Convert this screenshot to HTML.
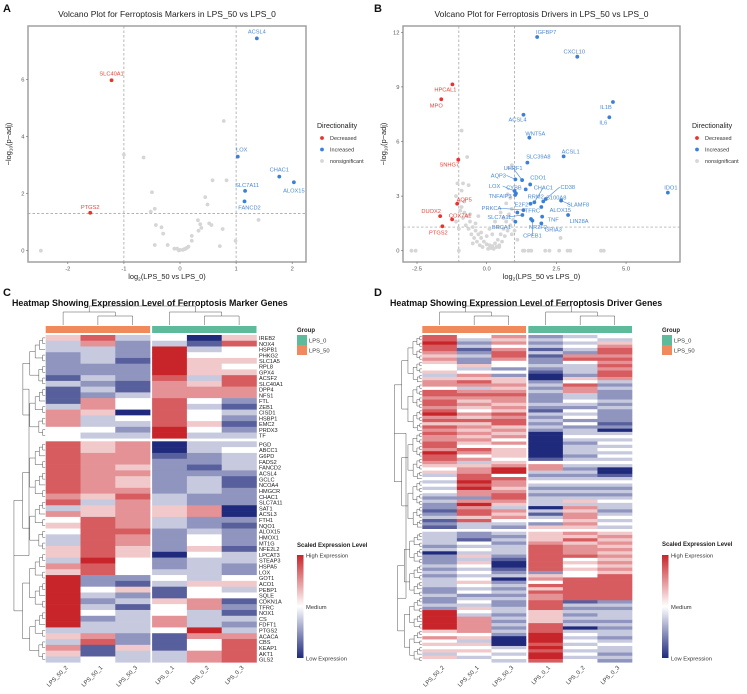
<!DOCTYPE html>
<html><head><meta charset="utf-8"><style>
html,body{margin:0;padding:0;background:#fff;}
svg{display:block;font-family:"Liberation Sans",sans-serif;}
</style></head><body>
<svg id="fig" width="747" height="694" viewBox="0 0 747 694" xmlns="http://www.w3.org/2000/svg">
<defs>
<linearGradient id="cbar" x1="0" y1="0" x2="0" y2="1">
<stop offset="0" stop-color="#c8252b"/><stop offset="0.5" stop-color="#ffffff"/><stop offset="1" stop-color="#1f2a7c"/>
</linearGradient>
</defs>
</svg>
<script>
// ---------- Panel A data ----------
const aSigNames = ["ACSL4","SLC40A1","LOX","CHAC1","ALOX15","SLC7A11","FANCD2","PTGS2"];
const aSigX = [1.37,-1.22,1.03,1.77,2.03,1.16,1.15,-1.6];
const aSigY = [7.45,5.98,3.3,2.6,2.4,2.1,1.73,1.33];
const aSigDir = ["up","down","up","up","up","up","up","down"];
const aGrayX = [-2.48,-1,-0.65,-0.5,-0.52,-0.45,-0.43,-0.33,-0.3,-0.45,-0.22,0.78,0.58,0.83,0.45,0.49,0.32,0.36,0.33,0.38,0.52,0.56,0.76,0.71,0.21,0.21,0.99,1.4,-0.1,-0.05,0,0.05,0.1,0.12,0.15,0.07,-0.02];
const aGrayY = [0,3.37,3.27,2.05,1.37,1.47,0.9,0.82,0.6,0.2,0.2,4.55,2.47,2.47,1.88,1.62,1.07,0.93,0.7,0.8,0.96,0.9,0.76,0.16,0.52,0.35,0.35,1.08,0.07,0.07,0.03,0.03,0.07,0.1,0.14,0.05,0.01];
const aXTicks = [-2,-1,0,1,2];
const aYTicks = [0,2,4,6];

// ---------- Panel B data ----------
const bSigNames = ["IGFBP7","CXCL10","IL1B","IL6","ACSL4","WNT5A","ACSL1","SLC39A8","IDO1","UHRF1","AQP3","CDO1","LOX","CYBB","TNFAIP3","RRM2","CHAC1","CD38","S100A8","SLAMF8","E2F2","PRKCA","TFRC","ALOX15","SLC7A11","LIN28A","TNF","GRIA3","NR2F2","BRCA1","CPEB1","HPCAL1","MPO","SNHG7","AQP5","DUOX2","COX7A1","PTGS2"];
const bSigX = [1.81,3.25,4.53,4.40,1.32,1.53,2.76,1.46,6.5,1.27,1.03,1.56,1.0,1.05,1.02,1.4,1.71,2.12,2.03,2.67,1.57,1.32,1.1,1.96,1.28,2.92,1.99,1.96,1.59,1.03,1.64,-1.23,-1.63,-1.02,-1.06,-1.67,-1.24,-1.59];
const bSigY = [11.74,10.66,8.17,7.33,7.47,6.21,5.18,4.84,3.19,3.88,3.92,3.64,3.28,3.15,3.06,3.37,2.66,2.84,2.71,2.75,2.58,2.23,2.1,2.4,1.96,1.96,1.87,1.5,1.74,1.59,1.65,9.14,8.32,5.0,2.58,1.9,1.72,1.34];
const bSigDir = ["up","up","up","up","up","up","up","up","up","up","up","up","up","up","up","up","up","up","up","up","up","up","up","up","up","up","up","up","up","up","up","down","down","down","down","down","down","down"];
const bGrayX = [-2.7,-2.55,-1.0,1.3,1.35,1.5,1.6,2.1,2.25,2.6,2.9,4.1,4.2,3.0,-0.9,-0.7,-1.05,-0.85,-0.65,-0.9,0.8,0.9,0.75,0.85,1.1,2.65,-1.1,-1.0,-0.9,-0.8,-0.7,-0.6,-0.5,-0.4,-0.3,-0.2,-0.1,0,0.1,0.2,0.3,0.4,0.5,0.6,0.7,0.8,0.9,-0.95,-0.85,-0.75,-0.65,-0.55,-0.45,-0.35,-0.25,-0.15,0.05,0.15,0.25,0.35,0.45,0.55,0.65,0.75,0.85,0.95,-0.2,0,0.2,0.4,0.6,-0.4,-0.6,0.3,0.5,0.1,-0.3,0.7,-0.8,-1.0,-1.1,0.9,1.0,-0.5,0.45];
const bGrayY = [0,0,0,0,0,0,0,0,0,0,0,0,0,0,6.6,5.15,3.7,3.7,3.6,3.3,4.55,4.7,3.1,2.9,0.6,0.7,3.0,2.7,2.4,2.1,1.9,1.6,1.3,1.1,0.9,0.7,0.5,0.35,0.3,0.25,0.4,0.6,0.9,1.2,1.6,2.0,2.3,2.2,1.8,1.4,1.2,0.9,0.7,0.5,0.3,0.2,0.1,0.15,0.1,0.2,0.3,0.5,0.8,1.1,1.4,1.7,1.0,0.8,0.9,1.3,1.8,1.5,2.0,1.6,2.1,1.2,1.9,2.6,2.7,1.2,1.6,0.9,1.1,0.4,0.2];
const bXTicks = [-2.5,0,2.5,5];
const bXTickLabels = ["-2.5","0.0","2.5","5.0"];
const bYTicks = [0,3,6,9,12];

// ---------- Panel C data (scaled expression, 0=low .. 8=high) ----------
const cGenes = ["IREB2","NOX4","HSPB1","PHKG2","SLC1A5","RPL8","GPX4","ACSF2","SLC40A1","DPP4","NFS1","FTL","ZEB1","CISD1","HSBP1","EMC2","PRDX3","TF","PGD","ABCC1","G6PD","FADS2","FANCD2","ACSL4","GCLC","NCOA4","HMGCR","CHAC1","SLC7A11","SAT1","ACSL3","FTH1","NQO1","ALOX15","HMOX1","MT1G","NFE2L2","LPCAT3","STEAP3","HSPA5","LOX","GOT1","ACO1","PEBP1","SQLE","CDKN1A","TFRC","NOX1","CS","FDFT1","PTGS2","ACACA","CBS","KEAP1","AKT1","GLS2"];
const cSamples = ["LPS_50_2","LPS_50_1","LPS_50_3","LPS_0_1","LPS_0_2","LPS_0_3"];
const cCol1 = [5,3,3,2,2,2,2,1,3,1,1,1,3,6,6,6,4,4,7,7,7,7,7,7,7,7,7,6,7,3,6,4,5,4,3,3,5,5,3,6,5,8,8,8,8,8,8,8,8,8,3,5,3,6,5,3];
const cCol2 = [7,6,3,3,3,2,2,3,2,3,2,6,6,5,3,3,4,3,5,5,6,6,6,6,6,6,6,5,3,5,5,7,7,7,7,7,7,7,8,7,7,2,2,4,3,2,3,4,2,3,3,6,7,1,1,4];
const cCol3 = [3,2,2,2,1,2,2,2,1,1,3,4,4,0,4,3,2,3,6,6,6,6,5,6,5,5,6,7,6,6,6,6,6,7,6,6,5,5,4,4,4,2,1,5,2,3,1,3,3,3,3,2,2,5,3,3];
const cCol4 = [4,3,8,8,8,8,8,7,6,6,6,7,7,7,7,7,8,8,0,0,1,2,2,2,2,2,2,3,3,5,5,3,3,2,2,2,2,0,2,2,3,4,3,1,1,5,4,4,6,6,4,1,1,1,3,3];
const cCol5 = [0,1,3,4,5,5,5,3,5,6,6,4,3,4,4,5,4,3,3,3,2,2,1,2,3,3,3,2,2,6,6,2,2,3,4,4,5,4,3,3,3,3,5,4,4,6,6,3,3,3,8,6,4,4,6,6];
const cCol6 = [5,7,4,4,5,4,5,7,7,6,6,2,1,3,2,1,2,3,3,4,3,3,3,2,1,1,2,2,2,0,0,2,1,2,2,2,1,3,3,2,2,4,5,3,4,1,2,1,3,2,3,6,7,7,7,7];

// ---------- Panel D data (0=low .. 8=high), 60 top-cluster rows + 40 bottom-cluster rows ----------
const dCol1 = "7787765654"+"4535664776"+"7767867576"+"7667768776"+"5453434343"+"2322123121"+"3333230222"+"3232333223"+"2232888888"+"5464545354";
const dCol2 = "4323123225"+"3465763676"+"5654657565"+"6565476463"+"5667787866"+"2686775733"+"2214343535"+"4343454342"+"3435436666"+"6453545434";
const dCol3 = "6564677644"+"2425565676"+"6565767756"+"5646455545"+"6884766567"+"7653656432"+"3232333210"+"0123023232"+"3223323232"+"3200034343";
const dCol4 = "2323131223"+"2100232322"+"2321323232"+"0000000014"+"6632343232"+"3330313425"+"5556777777"+"7725647576"+"6777555577"+"7888787887";
const dCol5 = "3434326743"+"3325476633"+"4324342423"+"3432333234"+"3232343232"+"3536566565"+"6575666745"+"4544777777"+"7132323230"+"3434343434";
const dCol6 = "4356776767"+"6776323222"+"3232222120"+"3434343434"+"3001343232"+"3433234343"+"5656565656"+"5657777777"+"7232333232"+"3323433232";
const dSamples = ["LPS_50_2","LPS_50_1","LPS_50_3","LPS_0_1","LPS_0_2","LPS_0_3"];

const legendLabels = ["Decreased","Increased","nonsignificant"];
const groupLabels = ["LPS_0","LPS_50"];

// ---------- helpers ----------
const NS = "http://www.w3.org/2000/svg";
const svg = document.getElementById("fig");
function mk(tag, attrs, parent, text){
  const e = document.createElementNS(NS, tag);
  for (const k in attrs) e.setAttribute(k, attrs[k]);
  if (text !== undefined) e.textContent = text;
  (parent || svg).appendChild(e);
  return e;
}
const RED="#e8332f", BLUE="#3b7fd6", GRAY="#d6d6d6", RLAB="#e8453c", BLAB="#4a8ad4";
function heatColor(d){
  const v=(d-4)/4;
  const w=[255,255,255], hi=[200,37,43], lo=[31,42,124];
  const t=Math.min(1,Math.abs(v)), c=v>=0?hi:lo;
  return "rgb("+w.map((x,i)=>Math.round(x+(c[i]-x)*t)).join(",")+")";
}

// ---------- panel letters ----------
[["A",3,12],["B",374,12],["C",3,296],["D",374,296]].forEach(p=>{
  const t=mk("text",{x:p[1],y:p[2],"font-size":"11","font-weight":"bold",fill:"#111"},svg,p[0]);
  
  
});

// ---------- volcano builder ----------
function volcano(cfg){
  const g=mk("g",{});
  
  
  const xs=v=>cfg.x0+v*cfg.xk, ys=v=>cfg.y0-v*cfg.yk;
  const t=mk("text",{x:(cfg.L+cfg.R)/2,y:17,"text-anchor":"middle","font-size":"8.5",fill:"#222"},g,cfg.title);
  
  
  const frame=mk("rect",{x:cfg.L,y:cfg.T,width:cfg.R-cfg.L,height:cfg.B-cfg.T,fill:"none",stroke:"#9a9a9a","stroke-width":"1.4"},g);
  
  
  [-1,1].forEach(v=>{
    const l=mk("line",{x1:xs(v),x2:xs(v),y1:cfg.T,y2:cfg.B,stroke:"#999","stroke-width":"0.7","stroke-dasharray":"2.5,2"},g);
    
    
  });
  const hl=mk("line",{x1:cfg.L,x2:cfg.R,y1:ys(1.3),y2:ys(1.3),stroke:"#999","stroke-width":"0.7","stroke-dasharray":"2.5,2"},g);
  
  
  cfg.xt.forEach((v,i)=>{
    mk("line",{x1:xs(v),x2:xs(v),y1:cfg.B,y2:cfg.B+2,stroke:"#666","stroke-width":"0.6"},g);
    const tl=mk("text",{x:xs(v),y:cfg.B+8.5,"text-anchor":"middle","font-size":"5.8",fill:"#555"},g,cfg.xtl[i]);
    
    
  });
  cfg.yt.forEach(v=>{
    mk("line",{x1:cfg.L-2,x2:cfg.L,y1:ys(v),y2:ys(v),stroke:"#666","stroke-width":"0.6"},g);
    const tl=mk("text",{x:cfg.L-3.5,y:ys(v)+2,"text-anchor":"end","font-size":"5.8",fill:"#555"},g,String(v));
    
    
  });
  const xt=mk("text",{x:(cfg.L+cfg.R)/2,y:cfg.B+17,"text-anchor":"middle","font-size":"7.4",fill:"#222"},g);
  
  
  mk("tspan",{},xt,"log");
  mk("tspan",{"font-size":"4.8",dy:"1.5"},xt,"2");
  mk("tspan",{dy:"-1.5"},xt,"(LPS_50 vs LPS_0)");
  const yx=cfg.L-17, yy=(cfg.T+cfg.B)/2;
  const yt=mk("text",{x:yx,y:yy,"text-anchor":"middle","font-size":"7.4",fill:"#222",transform:"rotate(-90 "+yx+" "+yy+")"},g);
  
  
  mk("tspan",{},yt,"\u2212log");
  mk("tspan",{"font-size":"4.8",dy:"1.5"},yt,"10");
  mk("tspan",{dy:"-1.5"},yt,"(p\u2212adj)");
  cfg.gx.forEach((v,i)=>{
    const c=mk("circle",{cx:xs(v),cy:ys(cfg.gy[i]),r:1.9,fill:GRAY},g);
    
    
  });
  cfg.names.forEach((n,i)=>{
    const px=xs(cfg.sx[i]), py=ys(cfg.sy[i]);
    const up=cfg.dir[i]==="up";
    const off=cfg.off[i];
    const lx=px+off[0], ly=py+off[1];
    if (off[2]) {
      const ln=mk("line",{x1:px,y1:py,x2:lx+(off[0]<0?8:-8)*(Math.abs(off[0])>10?1:0),y2:ly,stroke:up?BLAB:RLAB,"stroke-width":"0.6"},g);
      
      
    }
    const c=mk("circle",{cx:px,cy:py,r:1.9,fill:up?BLUE:RED},g);
    
    
    const tl=mk("text",{x:lx,y:ly+2,"text-anchor":"middle","font-size":"5.7",fill:up?BLAB:RLAB},g,n);
    
    
  });
  // legend
  const lg=mk("g",{});
  
  
  mk("text",{x:cfg.lgx,y:128,"font-size":"7","fill":"#222"},lg,"Directionality");
  [RED,BLUE,GRAY].forEach((col,i)=>{
    const c=mk("circle",{cx:cfg.lgx+5,cy:138+i*11.5,r:1.9,fill:col},lg);
    
    
    const tl=mk("text",{x:cfg.lgx+13,y:140+i*11.5,"font-size":"5.5",fill:"#333"},lg,legendLabels[i]);
    
    
  });
}

const aOff=[[0,-7],[0,-7],[4,-7],[0,-7],[0,8],[2,-6],[5,6],[0,-6]];
volcano({name:"volcano-a",title:"Volcano Plot for Ferroptosis Markers in LPS_50 vs LPS_0",
  L:28,R:306,T:26,B:262,x0:180,xk:56.1,y0:250.7,yk:28.5,
  xt:aXTicks,xtl:aXTicks.map(String),yt:aYTicks,gx:aGrayX,gy:aGrayY,
  names:aSigNames,sx:aSigX,sy:aSigY,dir:aSigDir,off:aOff,lgx:317});

const bOff=[[9,-5],[-3,-5],[-7,5],[-6,5],[-6,5],[6,-4],[7,-5],[11,-6],[3,-5],[-9,-12,1],[-17,-4,1],[8,-7],[-20,-5,1],[-2,-6],[-15,1],[10,7],[9,-15,1],[22,-12,1],[13,-4],[17,4,1],[-9,1],[-32,-2,1],[15,-2],[19,3],[-23,2,1],[11,6],[11,3],[12,6],[7,8],[-14,5],[0,15,1],[-7,5],[-5,6],[-9,5],[7,-4],[-9,-5],[8,-4],[-4,6]];
volcano({name:"volcano-b",title:"Volcano Plot for Ferroptosis Drivers in LPS_50 vs LPS_0",
  L:403,R:680,T:26,B:262,x0:486.7,xk:27.87,y0:250.7,yk:18.2,
  xt:bXTicks,xtl:bXTickLabels,yt:bYTicks,gx:bGrayX,gy:bGrayY,
  names:bSigNames,sx:bSigX,sy:bSigY,dir:bSigDir,off:bOff,lgx:692});

// ---------- heatmap builder ----------
function dendroLeft(g, y0s, hs, xr, depthW){
  function rec(a,b){
    if (a===b) return {y:y0s[a]+hs[a]/2, x:xr};
    const m=Math.floor((a+b)/2);
    const l=rec(a,m), r=rec(m+1,b);
    const x=Math.min(l.x,r.x)-depthW*Math.log2(b-a+2)/1.6;
    mk("path",{d:"M"+l.x+","+l.y+"H"+x+"V"+r.y+"H"+r.x,fill:"none",stroke:"#555","stroke-width":"0.5"},g);
    return {y:(l.y+r.y)/2,x:x};
  }
  return rec;
}
function heatmap(cfg){
  const g=mk("g",{});
  
  
  const t=mk("text",{x:cfg.titleX,y:306,"font-size":"8.9","font-weight":"bold",fill:"#111"},g,cfg.title);
  
  
  const colX=i=>cfg.x0+i*cfg.cw+(i>=3?cfg.gap:0);
  const nTop=cfg.nTop, n=cfg.cols[0].length;
  const ys=[],hs=[];
  for(let r=0;r<n;r++){
    if(r<nTop){const h=(cfg.splitY-335)/nTop;ys.push(335+r*h);hs.push(h);}
    else{const h=(662.3-cfg.splitY-3)/(n-nTop);ys.push(cfg.splitY+3+(r-nTop)*h);hs.push(h);}
  }
  cfg.cols.forEach((col,ci)=>{
    for(let r=0;r<n;r++){
      const c=mk("rect",{x:colX(ci),y:ys[r],width:cfg.cw+0.3,height:hs[r]+0.3,fill:heatColor(+col[r])},g);
      
      
    }
  });
  [[0,"#f08a5d"],[3,"#5dbb9b"]].forEach(p=>{
    const b=mk("rect",{x:colX(p[0]),y:326,width:cfg.cw*3,height:7,fill:p[1]},g);
    
    
  });
  const cx=i=>colX(i)+cfg.cw/2;
  const td=mk("g",{},g);
  
  
  [[0,1,2],[3,4,5]].forEach(gr=>{
    const a=cx(gr[1]),b=cx(gr[2]),m=(a+b)/2,c0=cx(gr[0]);
    mk("path",{d:"M"+a+",325V316H"+b+"V325",fill:"none",stroke:"#555","stroke-width":"0.5"},td);
    mk("path",{d:"M"+c0+",325V312H"+m+"V316",fill:"none",stroke:"#555","stroke-width":"0.5"},td);
  });
  const m1=(cx(0)+(cx(1)+cx(2))/2)/2, m2=(cx(3)+(cx(4)+cx(5))/2)/2;
  mk("path",{d:"M"+m1+",312V306H"+m2+"V312",fill:"none",stroke:"#555","stroke-width":"0.5"},td);
  const ld=mk("g",{},g);
  
  
  const rec=dendroLeft(ld,ys,hs,cfg.x0-0.5,cfg.dw);
  const t1=rec(0,nTop-1), t2=rec(nTop,n-1);
  const xr=cfg.dl;
  mk("path",{d:"M"+t1.x+","+t1.y+"H"+xr+"V"+t2.y+"H"+t2.x,fill:"none",stroke:"#555","stroke-width":"0.5"},ld);
  if(cfg.genes){
    cfg.genes.forEach((gn,r)=>{
      const tl=mk("text",{x:colX(5)+cfg.cw+2.5,y:ys[r]+hs[r]*0.88,"font-size":"5.6",fill:"#222"},g,gn);
      
      
    });
  }
  cfg.samples.forEach((s,i)=>{
    const x=cx(i)+5, y=668;
    const tl=mk("text",{x:x,y:y,"text-anchor":"end","font-size":"5.8",fill:"#333",transform:"rotate(-45 "+x+" "+y+")"},g,s);
    
    
  });
  const gl=mk("g",{});
  
  
  mk("text",{x:cfg.lx,y:332,"font-size":"6","font-weight":"bold",fill:"#222"},gl,"Group");
  [["#5dbb9b"],["#f08a5d"]].forEach((p,i)=>{
    const b=mk("rect",{x:cfg.lx,y:335+i*10,width:10,height:10,fill:p[0]},gl);
    
    
    const tl=mk("text",{x:cfg.lx+12,y:342.5+i*10,"font-size":"5.8",fill:"#333"},gl,groupLabels[i]);
    
    
  });
  const cl=mk("g",{});
  
  
  mk("text",{x:cfg.lx,y:cfg.cly,"font-size":"6","font-weight":"bold",fill:"#222"},cl,"Scaled Expression Level");
  const cb=mk("rect",{x:cfg.lx,y:555,width:6.5,height:103,fill:"url(#cbar)"},cl);
  
  
  [["High Expression",557.5],["Medium",609],["Low Expression",660.5]].forEach(p=>{
    mk("text",{x:cfg.lx+9,y:p[1],"font-size":"5.8",fill:"#333"},cl,p[0]);
  });
}

heatmap({name:"heatmap-markers",title:"Heatmap Showing Expression Level of Ferroptosis Marker Genes",titleX:12,
  x0:45.7,cw:34.8,gap:2,nTop:18,splitY:438.3,cols:[cCol1,cCol2,cCol3,cCol4,cCol5,cCol6],
  genes:cGenes,samples:cSamples,dw:2.6,dl:29,lx:297,cly:547});
heatmap({name:"heatmap-drivers",title:"Heatmap Showing Expression Level of Ferroptosis Driver Genes",titleX:390,
  x0:422.3,cw:34.57,gap:2.3,nTop:60,splitY:528.7,cols:[dCol1,dCol2,dCol3,dCol4,dCol5,dCol6],
  genes:null,samples:dSamples,dw:2.0,dl:406,lx:662,cly:546});
</script>
</body></html>
